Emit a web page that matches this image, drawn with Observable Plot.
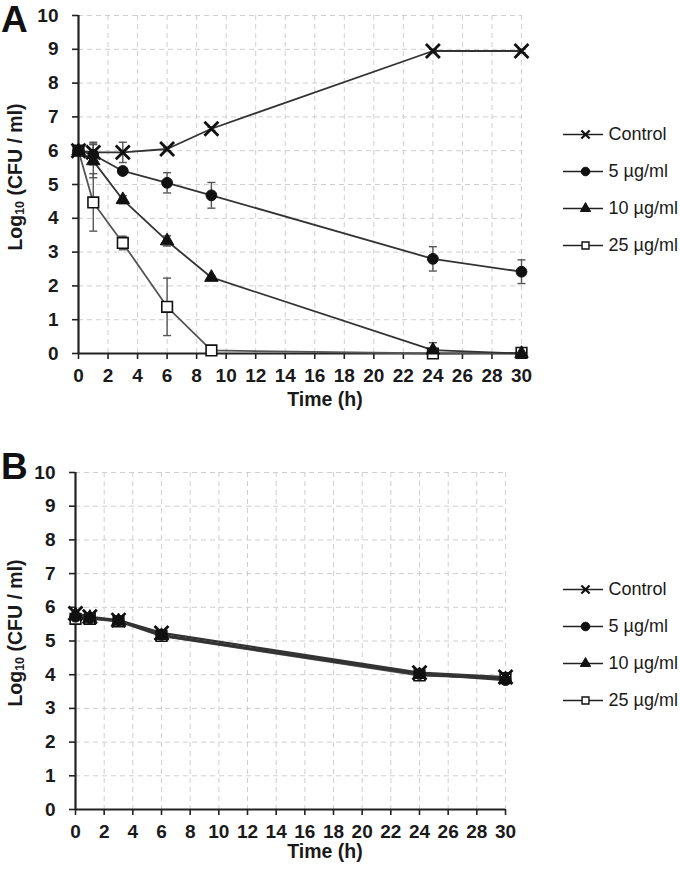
<!DOCTYPE html>
<html><head><meta charset="utf-8">
<script src="https://cdn.jsdelivr.net/npm/d3@7"></script>
<script src="https://cdn.jsdelivr.net/npm/@observablehq/plot@0.6"></script>
<style>
body{margin:0;background:#fff;}
#root{position:relative;width:680px;height:875px;font-family:"Liberation Sans",Arial,sans-serif;overflow:hidden;background:#fff}
.abs{position:absolute}
.letter{position:absolute;font-weight:bold;font-size:37px;line-height:1;color:#111}
</style></head><body><div id="root"></div>
<script>
// ---- data ----
const series = ["Control", "5 µg/ml", "10 µg/ml", "25 µg/ml"];
const xTicks = [0, 2, 4, 6, 8, 10, 12, 14, 16, 18, 20, 22, 24, 26, 28, 30];
const yTicks = [0, 1, 2, 3, 4, 5, 6, 7, 8, 9, 10];

// Panel A
const timesA = [0, 1, 3, 6, 9, 24, 30];
const aControl = [6.0, 5.95, 5.95, 6.05, 6.65, 8.95, 8.95];
const aControlErr = [0.0, 0.3, 0.3, 0.05, 0.05, 0.05, 0.05];
const a5 = [6.0, 5.88, 5.4, 5.05, 4.68, 2.8, 2.42];
const a5Err = [0.0, 0.3, 0.08, 0.3, 0.38, 0.36, 0.35];
const a10 = [6.0, 5.7, 4.55, 3.33, 2.25, 0.1, 0.0];
const a10Err = [0.0, 0.5, 0.12, 0.15, 0.05, 0.22, 0.0];
const a25 = [6.0, 4.47, 3.27, 1.38, 0.09, 0.0, 0.02];
const a25Err = [0.0, 0.85, 0.2, 0.85, 0.04, 0.0, 0.03];

// Panel B
const timesB = [0, 1, 3, 6, 24, 30];
const bControl = [5.82, 5.72, 5.62, 5.24, 4.06, 3.93];
const bControlErr = [0.08, 0.05, 0.05, 0.06, 0.05, 0.05];
const b5 = [5.72, 5.68, 5.6, 5.18, 4.02, 3.84];
const b5Err = [0.08, 0.05, 0.05, 0.06, 0.05, 0.05];
const b10 = [5.78, 5.7, 5.6, 5.16, 4.0, 3.88];
const b10Err = [0.08, 0.05, 0.05, 0.06, 0.05, 0.05];
const b25 = [5.66, 5.66, 5.58, 5.15, 3.98, 3.9];
const b25Err = [0.08, 0.05, 0.05, 0.06, 0.05, 0.05];

// ---- styles ----
const FONT = "Liberation Sans, Arial, Helvetica, sans-serif";
const symStyle = {
  "Control":  {symbol: "times",    r: 6.4, fill: "none",  stroke: "#111", strokeWidth: 2.8},
  "5 µg/ml":  {symbol: "circle",   r: 5.4, fill: "#111",  stroke: "#111", strokeWidth: 1},
  "10 µg/ml": {symbol: "triangle", r: 5.0, fill: "#111",  stroke: "#111", strokeWidth: 1},
  "25 µg/ml": {symbol: "square",   r: 6.0, fill: "#fff",  stroke: "#111", strokeWidth: 1.6}
};
const legStyle = {
  "Control":  {symbol: "times",    r: 3.8, fill: "none",  stroke: "#111", strokeWidth: 2.2},
  "5 µg/ml":  {symbol: "circle",   r: 4.3, fill: "#111",  stroke: "#111", strokeWidth: 1},
  "10 µg/ml": {symbol: "triangle", r: 3.8, fill: "#111",  stroke: "#111", strokeWidth: 1},
  "25 µg/ml": {symbol: "square",   r: 3.9, fill: "#fff",  stroke: "#111", strokeWidth: 1.4}
};
const capSymbol = {draw(ctx) { ctx.moveTo(-4, 0); ctx.lineTo(4, 0); }};

function buildRows(times, vals, errs) {
  const rows = [];
  series.forEach((s, i) => times.forEach((t, j) => rows.push({series: s, t, v: vals[i][j], e: errs[i][j]})));
  return rows;
}

function panel(cfg) {
  const rows = buildRows(cfg.times, cfg.vals, cfg.errs);
  const errRows = rows.filter(d => d.e > 0);
  const drawOrder = ["25 µg/ml", "10 µg/ml", "5 µg/ml", "Control"];
  const marks = [
    Plot.gridX(xTicks.slice(1), {stroke: "#cfcfcf", strokeOpacity: 1, strokeWidth: 1, strokeDasharray: "5,4"}),
    Plot.gridY(yTicks.slice(1), {stroke: "#cfcfcf", strokeOpacity: 1, strokeWidth: 1, strokeDasharray: "5,4"}),
    Plot.axisX(xTicks, {tickSize: 6, tickPadding: 9, label: null, stroke: "#222", strokeWidth: 1.6, fontSize: 19, fontWeight: "bold", fill: "#1a1a1a"}),
    Plot.axisY(yTicks, {tickSize: 6, tickPadding: 14, label: null, stroke: "#222", strokeWidth: 1.6, fontSize: 19, fontWeight: "bold", fill: "#1a1a1a"}),
    Plot.ruleY([0], {stroke: "#222", strokeWidth: 2.2}),
    Plot.ruleX([0], {stroke: "#222", strokeWidth: 2.2}),
    Plot.ruleX(errRows, {x: "t", y1: d => Math.max(0, d.v - d.e), y2: d => d.v + d.e, stroke: "#555", strokeWidth: 1.4}),
    Plot.dot(errRows, {x: "t", y: d => d.v + d.e, symbol: capSymbol, stroke: "#555", strokeWidth: 1.4, fill: "none"}),
    Plot.dot(errRows.filter(d => d.v - d.e > 0), {x: "t", y: d => d.v - d.e, symbol: capSymbol, stroke: "#555", strokeWidth: 1.4, fill: "none"})
  ];
  for (const s of drawOrder) {
    marks.push(Plot.line(rows.filter(d => d.series === s), {x: "t", y: "v", stroke: s === "25 µg/ml" ? "#555" : "#333", strokeWidth: cfg.lineW}));
  }
  for (const s of drawOrder) {
    const st = symStyle[s];
    marks.push(Plot.dot(rows.filter(d => d.series === s), {x: "t", y: "v", ...st}));
  }
  const svg = Plot.plot({
    width: 680, height: cfg.height,
    marginLeft: cfg.mL, marginRight: cfg.mR, marginTop: cfg.mT, marginBottom: cfg.mB,
    x: {domain: [0, 30]},
    y: {domain: [0, 10]},
    style: {fontFamily: FONT, fontSize: "19px", color: "#1a1a1a", background: "transparent", overflow: "visible"},
    marks
  });
  const g = d3.select(svg);
  g.append("text")
    .attr("x", cfg.titleX).attr("y", cfg.titleY)
    .attr("text-anchor", "middle").attr("dominant-baseline", "middle")
    .attr("font-family", FONT).attr("font-size", 19.5).attr("font-weight", "bold").attr("fill", "#1a1a1a")
    .text("Time (h)");
  const yl = g.append("text")
    .attr("transform", `translate(${cfg.ylX},${cfg.ylY}) rotate(-90)`)
    .attr("text-anchor", "middle").attr("dominant-baseline", "middle")
    .attr("font-family", FONT).attr("font-size", 19.5).attr("font-weight", "bold").attr("fill", "#1a1a1a");
  yl.append("tspan").text("Log");
  yl.append("tspan").attr("font-size", 12.5).attr("dy", 4).text("10");
  yl.append("tspan").attr("dy", -4).text(" (CFU / ml)");
  return svg;
}

function legend() {
  const marks = [
    Plot.ruleY(series, {y: d => d, x1: 0, x2: 40, stroke: "#222", strokeWidth: 1.6})
  ];
  for (const s of series) {
    marks.push(Plot.dot([s], {x: 22, y: d => d, ...legStyle[s]}));
  }
  marks.push(Plot.text(series, {x: 45, y: d => d, text: d => d, textAnchor: "start", fontSize: 18, fill: "#1a1a1a"}));
  return Plot.plot({
    width: 117, height: 140, margin: 0,
    x: {domain: [0, 117], range: [0, 117], axis: null},
    y: {type: "point", domain: series, range: [14, 126], padding: 0, axis: null},
    style: {fontFamily: FONT, background: "transparent", overflow: "visible"},
    marks
  });
}

const root = document.getElementById("root");
function place(el, left, top) {
  const w = document.createElement("div");
  w.className = "abs"; w.style.left = left + "px"; w.style.top = top + "px";
  w.appendChild(el); root.appendChild(w);
}

place(panel({
  times: timesA, vals: [aControl, a5, a10, a25], errs: [aControlErr, a5Err, a10Err, a25Err],
  height: 420, mL: 78, mR: 159, mT: 15, mB: 67, lineW: 1.8,
  titleX: 325, titleY: 401, ylX: 17, ylY: 177
}), 0, 0);
place(panel({
  times: timesB, vals: [bControl, b5, b10, b25], errs: [bControlErr, b5Err, b10Err, b25Err],
  height: 435, mL: 75, mR: 175, mT: 32, mB: 66, lineW: 2.2,
  titleX: 325, titleY: 413, ylX: 17, ylY: 193
}), 0, 440);
place(legend(), 563, 119);
place(legend(), 563, 574);

const la = document.createElement("div"); la.className = "letter"; la.style.left = "1px"; la.style.top = "1px"; la.textContent = "A"; root.appendChild(la);
const lb = document.createElement("div"); lb.className = "letter"; lb.style.left = "1px"; lb.style.top = "448px"; lb.textContent = "B"; root.appendChild(lb);
</script></body></html>
